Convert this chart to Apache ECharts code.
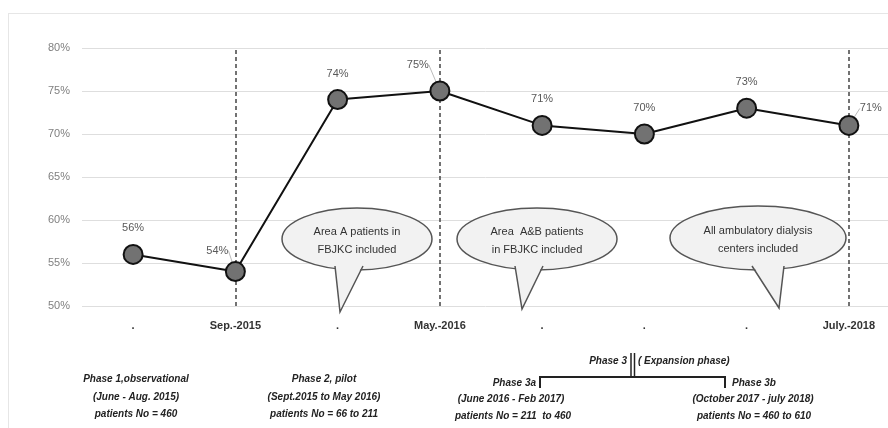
<!DOCTYPE html>
<html>
<head>
<meta charset="utf-8">
<script src="https://cdn.jsdelivr.net/npm/echarts@6/dist/echarts.min.js"></script>
<style>
  html, body { margin: 0; padding: 0; background: #fff; }
  #chart { width: 888px; height: 428px; }
</style>
</head>
<body>
<div id="chart"></div>
<script>
// categories along the axis (dots are the unnamed ones)
var categories = ['.', 'Sep.-2015', '.', 'May.-2016', '.', '.', '.', 'July.-2018'];
// adherence percentage per time point
var values = [56, 54, 74, 75, 71, 70, 73, 71];
// positions of the dashed phase separators (category index)
var phaseLines = [1, 3, 7];
var yTicks = { min: 50, max: 80, step: 5 };

var NARROW = '"Liberation Sans Narrow", "Liberation Sans", Arial, sans-serif';

// label nudges for the points whose label sits off to the side (these get a leader line)
var labelShift = {
    1: { dx: -18, dy: 5 },
    3: { dx: -22, dy: 0 },
    7: { dx: 22, dy: 9 }
};

/**
 * callout bubble: ellipse + tail + two lines of text
 */
function bubble(cx, cy, rx, ry, tail, lines) {
    var fill = '#f2f2f2', stroke = '#555';
    return [
        { type: 'ellipse', shape: { cx: cx, cy: cy, rx: rx, ry: ry },
          style: { fill: fill, stroke: stroke, lineWidth: 1.5 }, z: 10 },
        { type: 'polygon', shape: { points: [[tail[0], cy + ry - 6], [tail[1], cy + ry - 6], tail[3], [tail[0], cy + ry - 6]] },
          style: { fill: fill, stroke: null }, z: 11 },
        { type: 'polyline', shape: { points: [[tail[0], tail[2]], tail[3], [tail[1], tail[2]]] },
          style: { fill: null, stroke: stroke, lineWidth: 1.5 }, z: 12 },
        { type: 'text', x: cx, y: cy - 7, z: 13,
          style: { text: lines[0], fill: '#333', font: '11px ' + NARROW, align: 'center', verticalAlign: 'middle' } },
        { type: 'text', x: cx, y: cy + 11, z: 13,
          style: { text: lines[1], fill: '#333', font: '11px ' + NARROW, align: 'center', verticalAlign: 'middle' } }
    ];
}

function note(x, y, txt, align) {
    return { type: 'text', x: x, y: y, z: 10,
        style: { text: txt, fill: '#222', font: 'italic bold 10px ' + NARROW,
                 align: align || 'center', verticalAlign: 'middle' } };
}

function seg(x1, y1, x2, y2, w, color) {
    return { type: 'line', shape: { x1: x1, y1: y1, x2: x2, y2: y2 }, z: 10,
        style: { stroke: color || '#222', lineWidth: w || 2 } };
}

var graphics = [
    // faint frame
    seg(8.5, 13, 8.5, 428, 1, '#e6e6e6'),
    seg(8, 13.5, 888, 13.5, 1, '#e6e6e6')
];

graphics = graphics
    .concat(bubble(357, 239, 75, 31, [335, 363, 266, [340, 312]], ['Area A patients in', 'FBJKC included']))
    .concat(bubble(537, 239, 80, 31, [515, 543, 266, [522, 309]], ['Area  A&B patients', 'in FBJKC included']))
    .concat(bubble(758, 238, 88, 32, [752, 784, 266, [779, 308]], ['All ambulatory dialysis', 'centers included']))
    .concat([
        note(136, 379, 'Phase 1,observational'),
        note(136, 397, '(June - Aug. 2015)'),
        note(136, 414, 'patients No = 460'),
        note(324, 379, 'Phase 2, pilot'),
        note(324, 397, '(Sept.2015 to May 2016)'),
        note(324, 414, 'patients No = 66 to 211'),
        note(627, 361, 'Phase 3', 'right'),
        note(638, 361, '( Expansion phase)', 'left'),
        note(536, 383, 'Phase 3a', 'right'),
        note(732, 383, 'Phase 3b', 'left'),
        note(511, 399, '(June 2016 - Feb 2017)'),
        note(513, 416, 'patients No = 211  to 460'),
        note(753, 399, '(October 2017 - july 2018)'),
        note(754, 416, 'patients No = 460 to 610'),
        seg(631, 353, 631, 377, 1.5),
        seg(634.5, 353, 634.5, 377, 1.5),
        seg(539, 377, 726, 377, 2),
        seg(540, 376, 540, 388, 2),
        seg(725, 376, 725, 388, 2)
    ]);

var seriesData = values.map(function (v, i) {
    if (labelShift[i]) {
        return { value: v, labelLine: { show: true } };
    }
    return v;
});

var option = {
    backgroundColor: '#fff',
    animation: false,
    grid: { left: 82, top: 48, width: 818, height: 258, containLabel: false, outerBoundsMode: 'none' },
    xAxis: {
        type: 'category',
        data: categories,
        boundaryGap: true,
        axisLine: { show: false },
        axisTick: { show: false },
        splitLine: { show: false },
        axisLabel: { color: '#333', fontWeight: 'bold', fontSize: 11, fontFamily: NARROW, margin: 14 }
    },
    yAxis: {
        type: 'value',
        min: yTicks.min,
        max: yTicks.max,
        interval: yTicks.step,
        axisLine: { show: false },
        axisTick: { show: false },
        axisLabel: { formatter: '{value}%', color: '#808080', fontSize: 11, fontFamily: NARROW, margin: 12 },
        splitLine: { lineStyle: { color: '#dedede', width: 1 } }
    },
    series: [{
        type: 'line',
        data: seriesData,
        symbol: 'circle',
        symbolSize: 19,
        itemStyle: { color: '#727272', borderColor: '#111', borderWidth: 2 },
        lineStyle: { color: '#111', width: 2 },
        label: {
            show: true,
            position: 'top',
            distance: 10,
            formatter: '{c}%',
            color: '#595959',
            fontSize: 11,
            fontFamily: NARROW
        },
        labelLine: { show: false, lineStyle: { color: '#bbb', width: 1 } },
        labelLayout: function (p) {
            var s = labelShift[p.dataIndex];
            return s ? { dx: s.dx, dy: s.dy } : {};
        },
        markLine: {
            silent: true,
            symbol: 'none',
            label: { show: false },
            lineStyle: { color: '#444', type: [4, 3], width: 1.5 },
            data: phaseLines.map(function (i) { return { xAxis: i }; })
        },
        z: 5
    }],
    graphic: graphics
};

var myChart = echarts.init(document.getElementById('chart'));
myChart.setOption(option);
</script>
</body>
</html>
